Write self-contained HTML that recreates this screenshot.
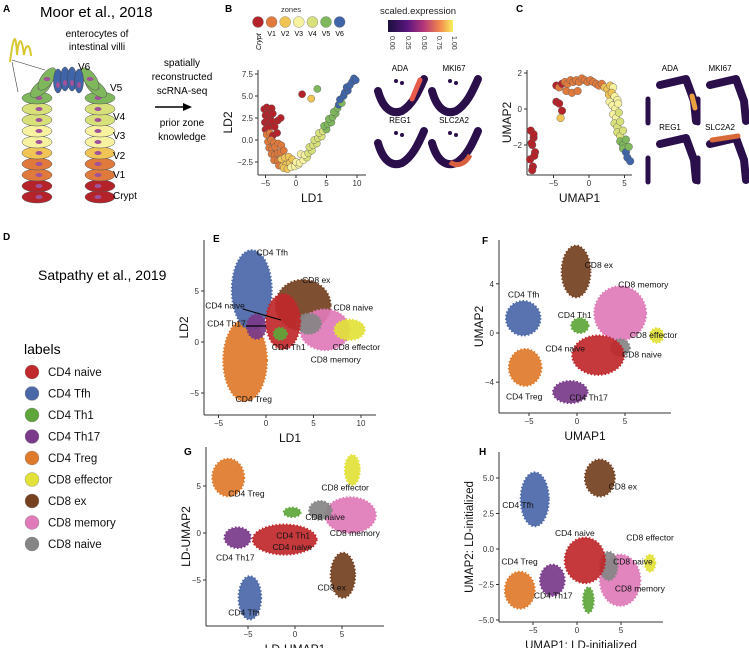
<!DOCTYPE html>
<html><head><meta charset="utf-8">
<style>
html,body{margin:0;padding:0;background:#fff;}
svg{display:block;font-family:"Liberation Sans",Arial,sans-serif;}
.tk{font-size:8px;fill:#333}
.ax{stroke:#333;stroke-width:1;fill:none}
</style></head>
<body>
<svg id="fig" width="749" height="648" viewBox="0 0 749 648">
<g id="pA">
  <text x="3" y="12" font-size="10" font-weight="bold">A</text>
  <text x="40" y="17" font-size="15">Moor et al., 2018</text>
  <text x="97" y="37" font-size="10" text-anchor="middle">enterocytes of</text>
  <text x="97" y="50" font-size="10" text-anchor="middle">intestinal villi</text>
  <path d="M10,62 C14,30 16,35 17,55 C19,35 22,38 24,55 C26,42 30,44 31,56" stroke="#d8c830" stroke-width="2" fill="none"/>
  <line x1="12" y1="62" x2="18" y2="92" stroke="#333" stroke-width="0.6"/>
  <line x1="12" y1="60" x2="45" y2="70" stroke="#333" stroke-width="0.6"/>
  <g id="villus"></g>
  <text x="78" y="70" font-size="10">V6</text>
  <text x="110" y="91" font-size="10">V5</text>
  <text x="113" y="120" font-size="10">V4</text>
  <text x="113" y="139" font-size="10">V3</text>
  <text x="113" y="159" font-size="10">V2</text>
  <text x="113" y="178" font-size="10">V1</text>
  <text x="113" y="199" font-size="10">Crypt</text>
  <text x="182" y="66" font-size="10" text-anchor="middle">spatially</text>
  <text x="182" y="80" font-size="10" text-anchor="middle">reconstructed</text>
  <text x="182" y="94" font-size="10" text-anchor="middle">scRNA-seq</text>
  <line x1="155" y1="107" x2="186" y2="107" stroke="#000" stroke-width="1.5"/>
  <polygon points="192,107 183,103 183,111" fill="#000"/>
  <text x="182" y="126" font-size="10" text-anchor="middle">prior zone</text>
  <text x="182" y="140" font-size="10" text-anchor="middle">knowledge</text>
</g>
<g id="pB">
  <text x="225" y="12" font-size="10" font-weight="bold">B</text>
  <text x="281" y="12" font-size="7.5" fill="#333">zones</text>
  <g id="zoneLegend"></g>
  <text x="380" y="14" font-size="9.5" fill="#222">scaled.expression</text>
  <defs><linearGradient id="mag" x1="0" x2="1"><stop offset="0" stop-color="#1a0f3d"/><stop offset="0.3" stop-color="#5a167e"/><stop offset="0.55" stop-color="#b5367a"/><stop offset="0.8" stop-color="#f4894d"/><stop offset="1" stop-color="#f5ef5c"/></linearGradient></defs>
  <rect x="388" y="20" width="65" height="12" fill="url(#mag)"/>
  <g font-size="7" fill="#333">
   <text transform="translate(390,36) rotate(90)">0.00</text>
   <text transform="translate(406,36) rotate(90)">0.25</text>
   <text transform="translate(422,36) rotate(90)">0.50</text>
   <text transform="translate(437,36) rotate(90)">0.75</text>
   <text transform="translate(452,36) rotate(90)">1.00</text>
  </g>
  <g id="plotB"></g>
  <g id="miniB"></g>
</g>
<g id="pC">
  <text x="516" y="12" font-size="10" font-weight="bold">C</text>
  <g id="plotC"></g>
  <g id="miniC"></g>
</g>
<g id="pD">
  <text x="3" y="240" font-size="10" font-weight="bold">D</text>
  <text x="38" y="280" font-size="14">Satpathy et al., 2019</text>
  <text x="24" y="354" font-size="14">labels</text>
  <g id="legendD"></g>
</g>
<g id="pE"></g>
<g id="pF"></g>
<g id="pG"></g>
<g id="pH"></g>
</svg>
<script>
// ---------- data ----------
const zoneNames = ["Crypt","V1","V2","V3","V4","V5","V6"];
const zoneColors = ["#b5232a","#e07a3c","#f0c455","#f7f2a0","#d8e07a","#7fb85c","#3f64a8"];
// Panel B points: LD1, LD2, zone index
const bLD1 = [-5.2,-4.8,-4.4,-4,-5,-4.6,-4.2,-3.8,-5.1,-4.7,-4.3,-3.9,-5,-4.5,-3.5,-3,-2.5,-4.8,-4.3,-3.8,-4.6,-4.1,-3.6,-3.1,-4.4,-3.9,-3.4,-2.9,-2.4,-4,-3.5,-3,-2.5,-2,-3.6,-3,-2.4,-1.8,-1.2,-2.8,-2.2,-1.6,-1,-2,-1.4,-0.8,-0.2,0.4,-0.6,0,0.6,1.2,1.8,0.8,1.4,2,2.6,2.2,2.8,3.4,3,3.6,4.2,3.8,4.4,5,4.6,5.2,5.8,5.4,6,6.5,6.2,6.8,7,7.5,7.2,7.8,8,8.5,8.3,8.8,9.2,9.5,9.8,1,2.5,3.5];
const bLD2 = [3.5,3.7,3.3,3.6,2.8,2.9,2.7,3,2,2.2,1.9,2.1,1.2,1.4,1.5,2.2,2.5,0.6,0.8,0.5,-0.2,0,-0.3,0.8,-0.9,-1,-0.8,-0.4,-0.6,-1.6,-1.7,-1.5,-1.4,-1.2,-2.3,-2.4,-2.2,-2.0,-1.9,-2.9,-3,-2.8,-2.6,-3.2,-3.3,-3.1,-3,-2.8,-2.2,-2.5,-2.6,-2.3,-2,-1.6,-1.7,-1.5,-1.2,-0.8,-0.6,-0.4,0,0.2,0.4,0.8,1,1.2,1.6,1.8,2,2.4,2.6,3,3.2,3.6,4,4.2,4.6,5,5.4,5.6,6,6.2,6.6,7,6.8,5.2,4.7,5.8];
const bZone = [0,0,0,0,0,0,0,0,0,0,0,0,0,0,0,0,0,1,1,0,1,1,1,0,1,1,1,1,1,1,1,1,1,1,1,1,2,2,2,1,2,2,2,2,2,3,3,3,2,3,3,3,4,3,3,4,4,4,4,4,4,4,4,4,4,5,5,5,5,5,5,5,5,5,6,5,6,6,6,6,6,6,6,6,6,0,2,5];
// Panel C points: UMAP1, UMAP2, zone
const cU1 = [-8.2,-7.8,-8,-7.6,-8.3,-7.9,-8.1,-7.7,-8,-7.8,-4.6,-4.2,-3.8,-3.4,-3,-2.6,-2.2,-1.8,-1.4,-1,-0.6,-0.2,0.2,0.6,1,1.4,1.8,2.2,2.6,3,3.4,-4.6,-4.2,-3.8,-4,-3.2,-2.4,-1.6,2.8,3.2,3.6,4,2.9,3.3,3.7,4.1,3.4,3.8,4.2,3.6,4,4.4,4,4.4,4.8,4.4,4.8,5.2,4.8,5.2,5.6,5.4,5.8];
const cU2 = [-1.2,-1.6,-2,-2.4,-2.8,-3.2,-1.9,-2.6,-3.4,-1.4,1.3,1.2,1.4,1.5,1.4,1.6,1.5,1.6,1.5,1.7,1.6,1.5,1.6,1.5,1.4,1.3,1.4,1.2,1.1,1.3,1.2,0.4,0.3,-0.1,-0.5,1.0,0.9,1.0,0.8,0.9,0.7,0.5,0.4,0.2,0,0.3,-0.3,-0.5,-0.2,-0.8,-1,-0.7,-1.3,-1.5,-1.2,-1.8,-2,-1.7,-2.2,-2.4,-2.1,-2.7,-2.9];
const cZone = [0,0,0,0,0,0,0,0,0,0,0,1,0,1,1,1,1,1,1,1,1,1,1,1,1,1,1,2,2,2,3,0,0,0,2,1,1,1,2,2,3,3,3,3,3,3,3,3,4,4,4,4,4,4,4,5,5,5,5,6,5,6,6];
// Satpathy labels
const cellTypes = ["CD4 naive","CD4 Tfh","CD4 Th1","CD4 Th17","CD4 Treg","CD8 effector","CD8 ex","CD8 memory","CD8 naive"];
const typeColors = ["#c0282b","#4a67a8","#5ea63a","#7a3a8a","#df7a2a","#e2e23a","#74401f","#e07ab8","#858585"];
// cluster centres (data units) and spreads, per panel; order as cellTypes
const eX = [1.8,-1.5,1.5,-1.0,-2.2,8.8,3.9,6.2,4.5];
const eY = [2.0,5.1,0.8,1.5,-1.8,1.2,3.6,1.2,1.8];
const eRX = [1.8,2.1,0.7,1.0,2.3,1.6,2.9,2.6,1.3];
const eRY = [2.7,3.9,0.6,1.2,4.0,1.0,2.5,2.0,1.0];
const fX = [2.2,-5.6,0.3,-0.7,-5.4,8.3,-0.1,4.5,4.5];
const fY = [-1.8,1.2,0.6,-4.8,-2.8,-0.2,5.0,1.6,-1.2];
const fRX = [2.7,1.8,0.9,1.8,1.7,0.7,1.5,2.7,1.0];
const fRY = [1.6,1.4,0.6,0.9,1.5,0.6,2.1,2.2,0.7];
const gX = [-1.1,-4.8,-0.3,-6.1,-7.1,6.1,5.1,5.9,2.7];
const gY = [-0.7,-6.9,2.2,-0.5,5.9,6.7,-4.5,1.9,2.4];
const gRX = [3.4,1.2,0.9,1.4,1.7,0.8,1.3,2.7,1.2];
const gRY = [1.6,2.3,0.5,1.1,2.0,1.6,2.4,1.9,1.0];
const hX = [0.9,-4.8,1.3,-2.8,-6.5,8.3,2.6,4.9,3.6];
const hY = [-0.8,3.5,-3.6,-2.2,-2.9,-1.0,5.0,-2.2,-1.2];
const hRX = [2.3,1.6,0.6,1.4,1.7,0.6,1.7,2.3,1.0];
const hRY = [1.6,1.9,0.9,1.1,1.3,0.6,1.3,1.8,1.0];
// text labels per panel (data units); null = not shown
const eLabX = [-6.4,-1,0.6,-6.2,-3.2,7,3.8,4.7,7.1];
const eLabY = [3.3,8.5,-0.8,1.5,-5.9,-0.8,5.8,-2,3.1];
const fLabX = [-3.3,-7.2,-2,-0.8,-7.4,5.5,0.8,4.3,4.7];
const fLabY = [-1.5,2.9,1.2,-5.5,-5.4,-0.4,5.3,3.7,-2];
const gLabX = [-2.4,-7.1,-2,-8.4,-7.1,2.8,2.4,3.7,1.1];
const gLabY = [-1.8,-8.8,-0.6,-2.9,3.9,4.5,-6.1,-0.3,1.4];
const hLabX = [-2.5,-8.5,null,-4.9,-8.6,5.6,3.6,4.3,4.1];
const hLabY = [0.9,2.9,null,-3.5,-1.1,0.6,4.2,-3.0,-1.1];

// ---------- helpers ----------
const NS="http://www.w3.org/2000/svg";
function mk(tag, attrs, parent){const e=document.createElementNS(NS,tag);for(const k in attrs)e.setAttribute(k,attrs[k]);parent.appendChild(e);return e;}
function axes(g, ox, oy, xs, ys, x0, x1, y0, y1, xTicks, yTicks, xlab, ylab, yTickFmt, xlabSize, ylabSize){
  mk('line',{x1:x0,y1:y1,x2:x1,y2:y1,class:'ax'},g);
  mk('line',{x1:x0,y1:y0,x2:x0,y2:y1,class:'ax'},g);
  xTicks.forEach(t=>{const px=ox+t*xs;mk('line',{x1:px,y1:y1,x2:px,y2:y1+3,class:'ax'},g);const tx=mk('text',{x:px,y:y1+11,'text-anchor':'middle',class:'tk'},g);tx.textContent=(t<0?'−'+(-t):t);});
  yTicks.forEach(t=>{const py=oy-t*ys;mk('line',{x1:x0-3,y1:py,x2:x0,y2:py,class:'ax'},g);const tx=mk('text',{x:x0-5,y:py+3,'text-anchor':'end',class:'tk'},g);const s=yTickFmt?yTickFmt(t):String(t);tx.textContent=s.replace('-','−');});
  const xl=mk('text',{x:(x0+x1)/2,y:y1+27,'text-anchor':'middle','font-size':xlabSize||12,fill:'#111'},g);xl.textContent=xlab;
  
  
  const yl=mk('text',{transform:`translate(${x0-(yTickFmt?26:16)},${(y0+y1)/2}) rotate(-90)`,'text-anchor':'middle','font-size':ylabSize||12,fill:'#111'},g);yl.textContent=ylab;
  
  
}

// ---------- villus ----------
(function(){
  const g=document.getElementById('villus');
  const rows=[[197,0],[186,0],[175,1],[164,1],[153,2],[142,3],[131,3],[120,4],[109,4],[98,5]];
  [[37,1],[100,-1]].forEach(([cx,dir])=>{
    rows.forEach(([y,z])=>{
      const c=mk('ellipse',{cx:cx,cy:y,rx:15,ry:6,fill:zoneColors[z],stroke:'#555','stroke-width':0.5},g);
      
      
      mk('ellipse',{cx:cx+dir*2,cy:y,rx:3.5,ry:2,fill:'#a0529a'},g);
    });
    [[cx+dir*4,88,-40*dir],[cx+dir*10,79,-55*dir]].forEach(([x,y,r])=>{
      mk('ellipse',{cx:x,cy:y,rx:13,ry:6,fill:zoneColors[5],stroke:'#555','stroke-width':0.5,transform:`rotate(${r} ${x} ${y})`},g);
      mk('ellipse',{cx:x,cy:y,rx:3.5,ry:2,fill:'#a0529a'},g);
    });
  });
  [58,65,72,79].forEach(x=>{
    const y=x<62||x>76?81:79;
    mk('ellipse',{cx:x,cy:y,rx:4.5,ry:12,fill:zoneColors[6],stroke:'#444','stroke-width':0.5},g);
    mk('ellipse',{cx:x,cy:y+4,rx:2,ry:3,fill:'#a0529a'},g);
  });
})();

// ---------- zones legend ----------
(function(){
  const g=document.getElementById('zoneLegend');
  zoneNames.forEach((n,i)=>{
    const x=258+i*13.6;
    const c=mk('circle',{cx:x,cy:22,r:5.5,fill:zoneColors[i],stroke:'#777','stroke-width':0.4},g);
    
    
    if(i===0){mk('text',{transform:`translate(${x+3},50) rotate(-90)`,'font-size':7,'font-style':'italic'},g).textContent=n;}
    else mk('text',{x:x,y:36,'font-size':7,'text-anchor':'middle'},g).textContent=n;
  });
})();

// ---------- panel B plot ----------
(function(){
  const g=document.getElementById('plotB');
  const ox=296, oy=140, xs=6.1, ys=8.8;
  axes(g,ox,oy,xs,ys,258,366,70,175,[-5,0,5,10],[7.5,5,2.5,0,-2.5],'LD1','LD2',t=>t.toFixed(1),12,12);
  bLD1.forEach((v,i)=>{
    const c=mk('circle',{cx:ox+v*xs,cy:oy-bLD2[i]*ys,r:3.6,fill:zoneColors[bZone[i]],stroke:'#555','stroke-width':0.4},g);
    
    
  });
})();
// ---------- panel C plot ----------
(function(){
  const g=document.getElementById('plotC');
  const ox=589, oy=109, xs=7.1, ys=18;
  axes(g,ox,oy,xs,ys,527,632,70,175,[-5,0,5],[2,0,-2],'UMAP1','UMAP2',null,12,12);
  cU1.forEach((v,i)=>{
    const c=mk('circle',{cx:ox+v*xs,cy:oy-cU2[i]*ys,r:3.8,fill:zoneColors[cZone[i]],stroke:'#555','stroke-width':0.4},g);
    
    
  });
})();

// ---------- mini gene panels ----------
function miniShapes(g, positions, names, kind){
  positions.forEach(([x,y],i)=>{
    const t=mk('text',{x:x+22,y:y,'font-size':8,'text-anchor':'middle'},g);t.textContent=names[i];
    
    
    if(kind==='B'){
      mk('path',{d:`M${x},${y+20} C${x+5},${y+38} ${x+14},${y+44} ${x+24},${y+40} C${x+34},${y+34} ${x+40},${y+22} ${x+46},${y+8}`,stroke:'#2a0f4a','stroke-width':8,fill:'none','stroke-linecap':'round'},g);
      mk('circle',{cx:x+18,cy:y+10,r:2,fill:'#2a0f4a'},g);mk('circle',{cx:x+24,cy:y+12,r:2,fill:'#2a0f4a'},g);
    }else{
      mk('path',{d:`M${x+12},${y+14} L${x+38},${y+8} L${x+46},${y+30} L${x+48},${y+50}`,stroke:'#2a0f4a','stroke-width':8,fill:'none','stroke-linecap':'round','stroke-linejoin':'round'},g);
      mk('path',{d:`M${x},${y+28} L${x},${y+52}`,stroke:'#2a0f4a','stroke-width':5,fill:'none','stroke-linecap':'round'},g);
    }
  });
}
(function(){
  const gB=document.getElementById('miniB');
  miniShapes(gB,[[378,71],[432,71],[378,123],[432,123]],["ADA","MKI67","REG1","SLC2A2"],'B');
  mk('path',{d:'M412,99 L420,80',stroke:'#e85a4a','stroke-width':5,'stroke-linecap':'round'},gB);
  mk('path',{d:'M450,162 C458,168 466,163 470,155',stroke:'#d8603e','stroke-width':5,fill:'none'},gB);
  const gC=document.getElementById('miniC');
  miniShapes(gC,[[648,71],[698,71],[648,130],[698,130]],["ADA","MKI67","REG1","SLC2A2"],'C');
  mk('path',{d:'M692,96 L695,108',stroke:'#e8a040','stroke-width':5,'stroke-linecap':'round'},gC);
  mk('path',{d:'M712,140 L738,136',stroke:'#d86a3a','stroke-width':5,'stroke-linecap':'round'},gC);
})();

// ---------- legend D ----------
(function(){
  const g=document.getElementById('legendD');
  cellTypes.forEach((n,i)=>{
    const y=372+i*21.5;
    const c=mk('circle',{cx:32,cy:y,r:7,fill:typeColors[i],stroke:'#888','stroke-width':0.4},g);
    
    
    const t=mk('text',{x:48,y:y+4,'font-size':11.5,fill:'#111'},g);t.textContent=n;
    
    
  });
})();

// ---------- cluster panels ----------
function clusterPanel(id, letter, lx, ly, cfg, cx, cy, crx, cry, labX, labY, order){
  const g=document.getElementById(id);
  const L=mk('text',{x:lx,y:ly,'font-size':10,'font-weight':'bold'},g);L.textContent=letter;
  axes(g,cfg.ox,cfg.oy,cfg.xs,cfg.ys,cfg.x0,cfg.x1,cfg.y0,cfg.y1,cfg.xt,cfg.yt,cfg.xl,cfg.yl,cfg.fmt,cfg.xls,cfg.yls);
  order.forEach(i=>{
    const e=mk('ellipse',{cx:cfg.ox+cx[i]*cfg.xs,cy:cfg.oy-cy[i]*cfg.ys,rx:crx[i]*cfg.xs,ry:cry[i]*cfg.ys,fill:typeColors[i],stroke:typeColors[i],'stroke-width':2,'stroke-dasharray':'1.5 2','fill-opacity':0.92},g);
    
    
  });
  cellTypes.forEach((n,i)=>{
    if(labX[i]===null) return;
    const t=mk('text',{x:cfg.ox+labX[i]*cfg.xs,y:cfg.oy-labY[i]*cfg.ys,'font-size':8.5,fill:'#111'},g);t.textContent=n;
    
    
  });
}
const ord=[4,1,3,6,7,8,0,2,5];
clusterPanel('pE','E',213,242,{ox:266,oy:342,xs:9.5,ys:10.2,x0:204,x1:376,y0:240,y1:415,xt:[-5,0,5,10],yt:[5,0,-5],xl:'LD1',yl:'LD2',xls:12,yls:12},eX,eY,eRX,eRY,eLabX,eLabY,ord);
clusterPanel('pF','F',482,244,{ox:577,oy:333,xs:9.6,ys:12.3,x0:499,x1:671,y0:240,y1:413,xt:[-5,0,5],yt:[4,0,-4],xl:'UMAP1',yl:'UMAP2',xls:12,yls:12},fX,fY,fRX,fRY,fLabX,fLabY,ord);
clusterPanel('pG','G',184,455,{ox:295,oy:533,xs:9.4,ys:9.4,x0:206,x1:384,y0:447,y1:626,xt:[-5,0,5],yt:[5,0,-5],xl:'LD-UMAP1',yl:'LD-UMAP2',xls:12,yls:12},gX,gY,gRX,gRY,gLabX,gLabY,ord);
clusterPanel('pH','H',479,455,{ox:577,oy:549,xs:8.8,ys:14.2,x0:499,x1:663,y0:452,y1:622,xt:[-5,0,5],yt:[5,2.5,0,-2.5,-5],xl:'UMAP1: LD-initialized',yl:'UMAP2: LD-initialized',fmt:t=>t.toFixed(1),xls:11.5,yls:11.5},hX,hY,hRX,hRY,hLabX,hLabY,ord);
(function(){const g=document.getElementById('pE');
mk('line',{x1:243,y1:309,x2:281,y2:320,stroke:'#000','stroke-width':1},g);
mk('line',{x1:246,y1:326,x2:266,y2:326,stroke:'#000','stroke-width':1.2},g);})();
</script>
</body></html>
